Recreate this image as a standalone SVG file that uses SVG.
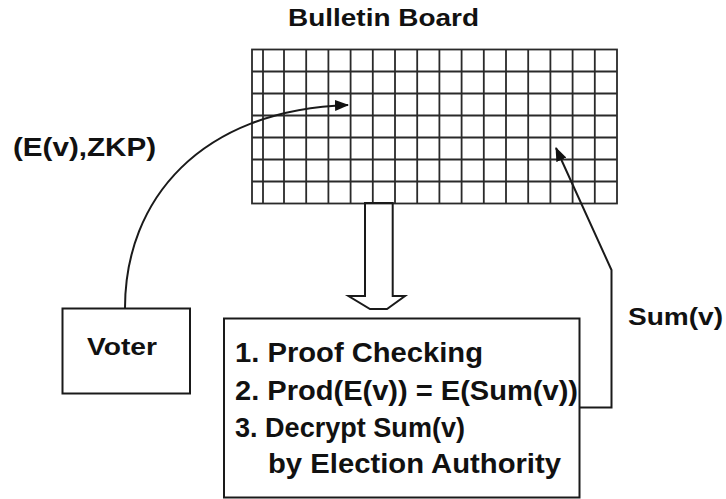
<svg xmlns="http://www.w3.org/2000/svg" width="726" height="499" viewBox="0 0 726 499">
  <style>
    .t { font-family: "Liberation Sans", Arial, sans-serif; font-weight: bold; fill: #111; }
    .ln { fill: none; stroke: #1a1a1a; stroke-width: 2; }
    .grid { fill: none; stroke: #2a2a2a; stroke-width: 1.8; }
  </style>
  <defs>
    <marker id="ah" viewBox="0 0 14 11" refX="13" refY="5.5" markerWidth="14" markerHeight="11" markerUnits="userSpaceOnUse" orient="auto">
      <path d="M0,0 L14,5.5 L0,11 Z" fill="#111"/>
    </marker>
  </defs>
  <rect width="726" height="499" fill="#fff"/>

  <g id="bulletin-board">
    <text class="t" x="288" y="26" font-size="24" textLength="191" lengthAdjust="spacingAndGlyphs">Bulletin Board</text>
    <rect class="grid" x="252" y="49.5" width="365" height="154"/>
    <path class="grid" d="M263,49.5V203.5 M284,49.5V203.5 M306.2,49.5V203.5 M328.4,49.5V203.5 M350.6,49.5V203.5 M372.8,49.5V203.5 M395,49.5V203.5 M417.2,49.5V203.5 M439.4,49.5V203.5 M461.6,49.5V203.5 M483.8,49.5V203.5 M506,49.5V203.5 M528.2,49.5V203.5 M550.4,49.5V203.5 M572.6,49.5V203.5 M594.8,49.5V203.5 M252,71.5H617 M252,93.5H617 M252,115.5H617 M252,137.5H617 M252,159.5H617 M252,181.5H617"/>
  </g>

  <g id="voter">
    <rect class="ln" x="62.5" y="308.5" width="127.5" height="85"/>
    <text class="t" x="87" y="355" font-size="24" textLength="70" lengthAdjust="spacingAndGlyphs">Voter</text>
  </g>

  <g id="tally">
    <rect class="ln" x="224" y="318.5" width="355.5" height="179"/>
    <text class="t" x="235" y="361.5" font-size="27" textLength="248" lengthAdjust="spacingAndGlyphs">1. Proof Checking</text>
    <text class="t" x="235" y="400" font-size="27" textLength="343" lengthAdjust="spacingAndGlyphs">2. Prod(E(v)) = E(Sum(v))</text>
    <text class="t" x="235" y="437" font-size="27" textLength="230" lengthAdjust="spacingAndGlyphs">3. Decrypt Sum(v)</text>
    <text class="t" x="268" y="472.5" font-size="27" textLength="293" lengthAdjust="spacingAndGlyphs">by Election Authority</text>
  </g>

  <g id="connectors">
    <path class="ln" d="M125,308 C125,200 200,110 348,105" stroke-width="1.8" marker-end="url(#ah)"/>
    <polygon class="ln" stroke-width="1.6" points="365,203 365,296 348.5,296 370,309 387,309 405,296 392.7,296 392.7,203"/>
    <path class="ln" d="M579.5,407.5 H611.5 V270 L556,148" marker-end="url(#ah)"/>
  </g>

  <g id="labels">
    <text class="t" x="13" y="156" font-size="26" textLength="143" lengthAdjust="spacingAndGlyphs">(E(v),ZKP)</text>
    <text class="t" x="628" y="325" font-size="24" textLength="95" lengthAdjust="spacingAndGlyphs">Sum(v)</text>
  </g>
</svg>
